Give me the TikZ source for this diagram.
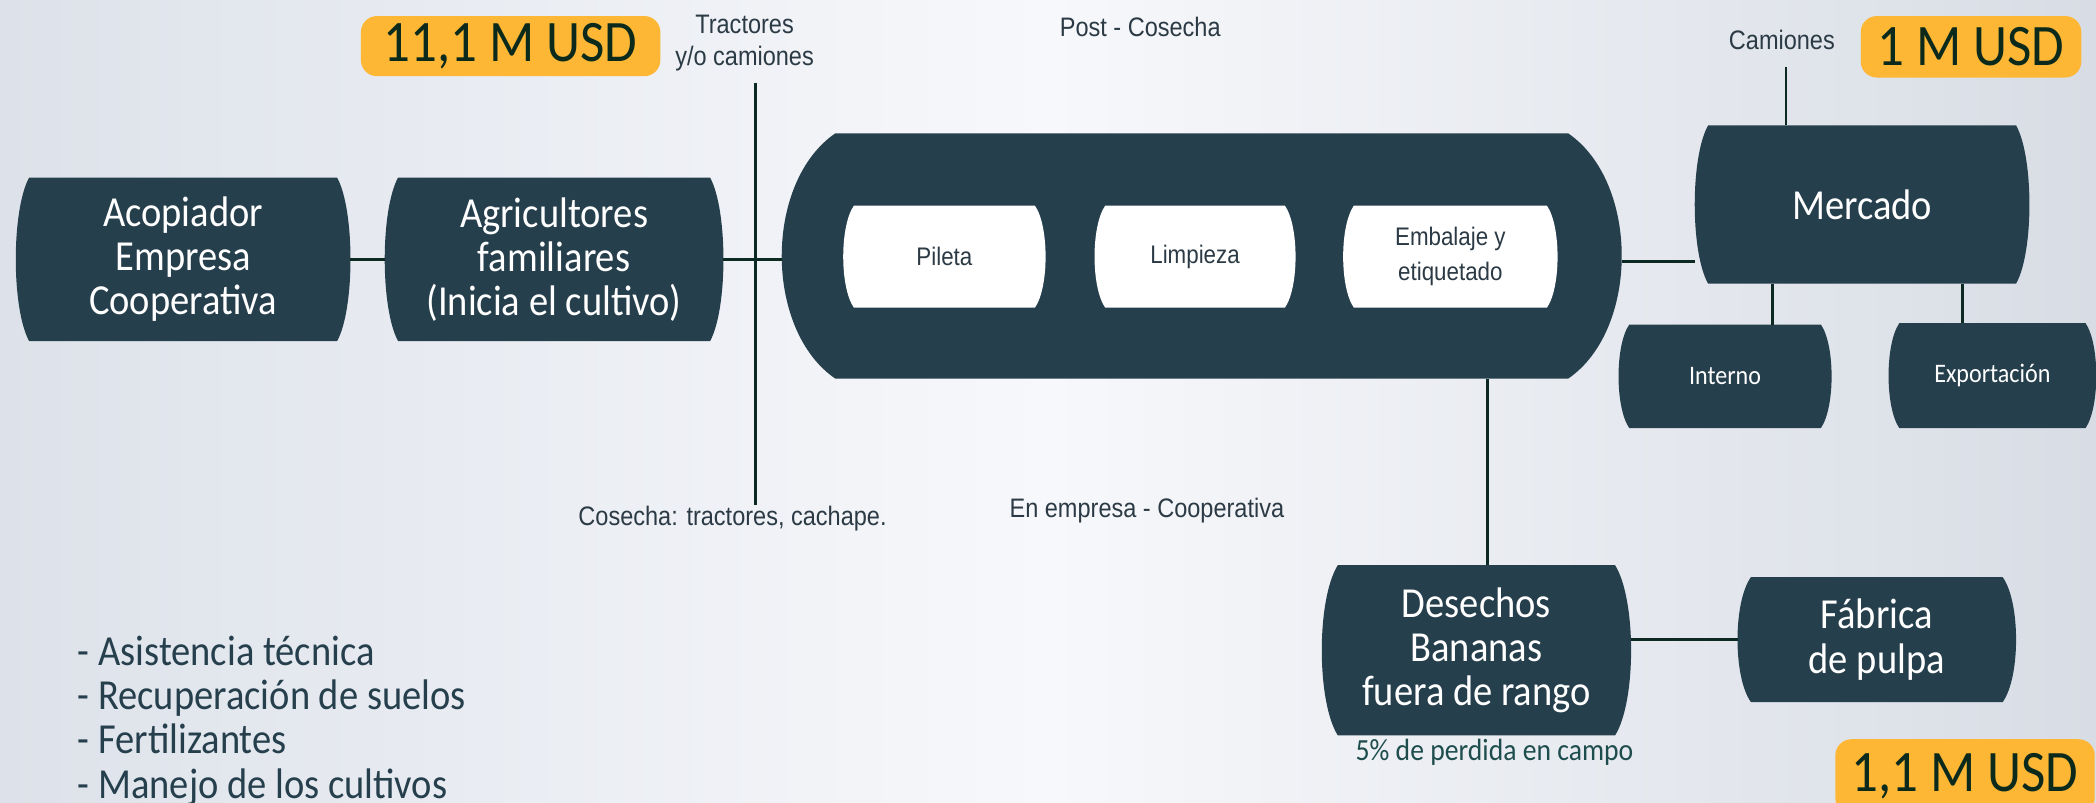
\documentclass[tikz,border=0pt]{standalone}
\usepackage{fontspec}
\setmainfont{Carlito}[FakeStretch=0.9]
\newfontfamily\arialn{Liberation Sans}[FakeStretch=0.88]
\usetikzlibrary{calc}
\definecolor{slate}{HTML}{263F4D}
\definecolor{lineC}{HTML}{0C2A22}
\definecolor{orangeC}{HTML}{FDB735}
\definecolor{usdC}{HTML}{0B2A1C}
\definecolor{smallC}{HTML}{2B3A44}
\definecolor{tealC}{HTML}{1E4D4D}
\definecolor{bgL}{HTML}{DDE2EA}
\definecolor{bgM}{HTML}{F7F8FB}
\definecolor{bgR}{HTML}{D8DDE5}
\pgfdeclarelayer{bg}
\pgfsetlayers{bg,main}
\newcommand\bulgeshape[3]{%
  \fill[#1] ($(#2.north west)+(#3,0)$) -- ($(#2.north east)-(#3,0)$)
   .. controls ($(#2.north east)!0.2!(#2.south east)+(#3/3,0)$) and ($(#2.north east)!0.8!(#2.south east)+(#3/3,0)$) .. ($(#2.south east)-(#3,0)$)
   -- ($(#2.south west)+(#3,0)$)
   .. controls ($(#2.north west)!0.8!(#2.south west)-(#3/3,0)$) and ($(#2.north west)!0.2!(#2.south west)-(#3/3,0)$) .. cycle;}
\tikzset{
  bx/.style 2 args={minimum width=#1pt, minimum height=#2pt, inner sep=0pt, align=center, text=white,
    font=\fontsize{32}{33}\selectfont},
  wbx/.style 2 args={minimum width=#1pt, minimum height=#2pt, inner sep=0pt, align=center, text=smallC,
    font=\arialn\fontsize{19}{26}\selectfont},
  usd/.style 2 args={fill=orangeC, rounded corners=12pt, minimum width=#1pt, minimum height=#2pt, inner sep=0pt,
    text=usdC, font=\fontsize{44}{44}\selectfont},
  small/.style={text=smallC, align=center, inner sep=0pt, font=\arialn\fontsize{20}{24}\selectfont},
  listitem/.style={anchor=base west, inner sep=0pt, text=slate, font=\fontsize{32}{33}\selectfont},
  conn/.style={draw=lineC, line width=2pt},
}
\begin{document}
\begin{tikzpicture}[x=1pt,y=-1pt]
\useasboundingbox (0,0) rectangle (1568,600);
\clip (0,0) rectangle (1568,600);
\begin{pgfonlayer}{bg}
\shade[left color=bgL, right color=bgR, middle color=bgM] (0,0) rectangle (1568,600);
\end{pgfonlayer}

% main boxes
\node[bx={250}{122}] (acop) at (137,194) {Acopiador\\Empresa\\Cooperativa};
\node[bx={253}{122}] (agri) at (414.5,194) {Agricultores\\familiares\\(Inicia el cultivo)};
\node[bx={628}{183}] (big) at (899,191.5) {};
\node[wbx={151}{76}] (pil) at (706.5,192) {Pileta};
\node[wbx={150}{76}] (lim) at (894,192) {Limpieza};
\node[wbx={160}{76}] (emb) at (1085,192) {Embalaje y\\etiquetado};
\node[bx={250}{118}] (merc) at (1393,153) {Mercado};
\node[bx={159}{77}, font=\fontsize{20}{24}\selectfont] (intern) at (1290.5,281.5) {Interno};
\node[bx={155}{78}, font=\fontsize{20}{24}\selectfont] (export) at (1490.5,281) {Exportación};
\node[bx={231}{127}] (des) at (1104.5,486.5) {Desechos\\Bananas\\fuera de rango};
\node[bx={208}{93}] (fab) at (1404,478.5) {Fábrica\\de pulpa};

\begin{pgfonlayer}{bg}
\bulgeshape{slate}{acop}{10}
\bulgeshape{slate}{agri}{10}
\bulgeshape{slate}{big}{40}
\bulgeshape{white}{pil}{8}
\bulgeshape{white}{lim}{8}
\bulgeshape{white}{emb}{8}
\bulgeshape{slate}{merc}{10}
\bulgeshape{slate}{intern}{8}
\bulgeshape{slate}{export}{8}
\bulgeshape{slate}{des}{12}
\bulgeshape{slate}{fab}{10}
\end{pgfonlayer}

% labels
\node[usd={224}{45}] (usd1) at (382,34.5) {11,1 M USD};
\node[usd={165}{46}] (usd2) at (1474.5,35) {1 M USD};
\node[usd={194}{56}] (usd3) at (1470,581) {1,1 M USD};

\node[small] (tract) at (557,32) {Tractores\\y/o camiones};
\node[small] (post) at (853,20) {Post - Cosecha};
\node[small] (cam) at (1333,30) {Camiones};
\node[small] (cos) at (548,388) {Cosecha: tractores, cachape.};
\node[small] (enemp) at (858,382) {En empresa - Cooperativa};
\node[text=tealC, inner sep=0pt, font=\fontsize{23}{24}\selectfont] (perd) at (1118,563) {5\% de perdida en campo};

\node[listitem] (l1) at (58,498) {- Asistencia técnica};
\node[listitem] (l2) at (58,531) {- Recuperación de suelos};
\node[listitem] (l3) at (58,564) {- Fertilizantes};
\node[listitem] (l4) at (58,597) {- Manejo de los cultivos};

% connectors
\coordinate (vtop) at (565,62);
\coordinate (vbot) at (565,378);
\coordinate (camtop) at (1336,50);
\draw[conn] (acop.east) -- (agri.west);
\draw[conn] (agri.east) -- (agri.east -| big.west);
\draw[conn] (vtop) -- (vbot);
\draw[conn] ([yshift=-4pt]big.east) -- ([yshift=-4pt]big.east -| merc.west);
\draw[conn] (camtop) -- (camtop |- merc.north);
\draw[conn] ([xshift=-67pt]merc.south) -- ([xshift=-67pt]merc.south |- intern.north);
\draw[conn] ([xshift=75pt]merc.south) -- ([xshift=75pt]merc.south |- export.north);
\draw[conn] ([xshift=8.5pt]des.north) -- ([xshift=8.5pt]des.north |- big.south);
\draw[conn] (fab.west) -- (fab.west -| des.east);
\end{tikzpicture}
\end{document}
